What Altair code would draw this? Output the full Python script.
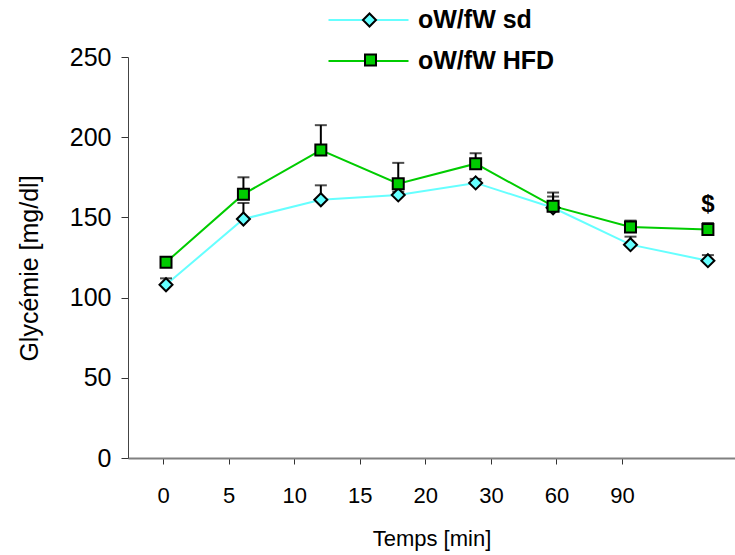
import json

import altair as alt
import pandas as pd

# Sampling times (min) and the two groups
times = ["0", "5", "10", "15", "20", "30", "60", "90"]
series_names = ["oW/fW sd", "oW/fW HFD"]
group_keys = ["sd", "HFD"]

# Mean glycaemia (mg/dl) and SEM per time point
sd_mean = [108, 149, 161, 164, 171.5, 156, 133, 123]
sd_err = [4, 10, 9, 2, 2.5, 7, 5, 3.5]
hfd_mean = [122, 164.5, 192, 171, 183.5, 157, 144, 142.5]
hfd_err = [1, 10.5, 15.5, 13, 6.5, 8.5, 4, 4]

# Significance marks above the HFD group
sig_marks = ["", "", "", "", "", "", "", "$"]

colors = ["#66FFFF", "#00CC00"]
shapes = ["diamond", "square"]
marker_sizes = [169, 121]
MARKER_EDGE = 2
FONT = "Liberation Sans"

rows = []
for k, (means, errs) in enumerate([(sd_mean, sd_err), (hfd_mean, hfd_err)]):
    for i, t in enumerate(times):
        rows.append({"series": series_names[k], "grp": group_keys[k],
                     "idx": i, "t": t, "mean": means[i],
                     "top": means[i] + errs[i]})
df = pd.DataFrame(rows)

sig_rows = [{"idx": i, "top": hfd_mean[i] + hfd_err[i], "mark": m}
            for i, m in enumerate(sig_marks) if m]
df_sig = pd.DataFrame(sig_rows)

x_data = alt.Scale(domain=[-0.491, 7.35], nice=False, zero=False)
y_scale = alt.Scale(domain=[0, 250], nice=False)

y_axis = alt.Axis(
    values=[0, 50, 100, 150, 200, 250], grid=False,
    labelFont=FONT, labelFontSize=25, labelColor="black", labelPadding=10,
    tickSize=7, tickColor="#333333", tickWidth=1,
    domainColor="#444444", domainWidth=1,
    title="Glycémie [mg/dl]", titleFont=FONT, titleFontSize=25,
    titleFontWeight="normal", titleColor="black", titlePadding=27,
    titleY=211,
)


def y_enc(field):
    return alt.Y(field, scale=y_scale, axis=y_axis)


base = alt.Chart(df).encode(
    x=alt.X("idx:Q", scale=x_data, axis=None),
    y=y_enc("mean:Q"),
)

line_legend = alt.Legend(
    title=None, orient="none", legendX=228, legendY=-49.5, padding=0,
    symbolType="M-4,0L4,0", symbolSize=400, symbolStrokeWidth=2,
    labelFont=FONT, labelFontSize=25, labelFontWeight="bold",
    labelColor="black", labelOffset=37, rowPadding=15,
)

lines = base.mark_line(strokeWidth=2).encode(
    stroke=alt.Stroke("series:N", sort=series_names,
                      scale=alt.Scale(domain=series_names, range=colors),
                      legend=line_legend),
)

err_bars = base.mark_rule(color="black", strokeWidth=2).encode(y2="top:Q")
err_caps = base.mark_tick(color="black", thickness=2, size=12,
                          orient="horizontal").encode(y=y_enc("top:Q"))


def marker_layer(k):
    # one layer per group: own marker size and own legend symbol,
    # which sits over the middle of that group's legend line
    half = (marker_sizes[k] ** 0.5 + MARKER_EDGE) / 2
    leg = alt.Legend(
        title=None, orient="none", values=[group_keys[k]],
        legendX=367 - 128 - half, legendY=-47 + 40 * k, padding=0,
        symbolSize=marker_sizes[k], symbolStrokeWidth=MARKER_EDGE,
        labelFontSize=20, labelExpr="''",
    )
    return base.transform_filter(
        alt.datum.grp == group_keys[k]
    ).mark_point(filled=True, opacity=1, strokeWidth=MARKER_EDGE,
                 size=marker_sizes[k]).encode(
        stroke=alt.Stroke("grp:N", sort=group_keys,
                          scale=alt.Scale(domain=group_keys,
                                          range=["black", "black"]),
                          legend=leg),
        fill=alt.Fill("grp:N", sort=group_keys,
                      scale=alt.Scale(domain=group_keys, range=colors),
                      legend=leg),
        shape=alt.Shape("grp:N", sort=group_keys,
                        scale=alt.Scale(domain=group_keys, range=shapes),
                        legend=leg),
    )


sig = alt.Chart(df_sig).mark_text(
    font=FONT, fontSize=24, fontWeight="bold", color="black", dy=-18,
).encode(
    x=alt.X("idx:Q", scale=x_data, axis=None),
    y=y_enc("top:Q"),
    text="mark:N",
)

data_layers = alt.layer(
    lines, err_bars, err_caps, marker_layer(0), marker_layer(1), sig
).resolve_scale(stroke="independent", fill="independent",
                shape="independent")

# Category axis for the time labels
label_list = json.dumps(times)
tick_values = [-0.549] + list(range(len(times)))
axis_layer = alt.Chart(df).mark_point(opacity=0).encode(
    x=alt.X("idx:Q",
            scale=alt.Scale(domain=[-0.534, 8.723], nice=False, zero=False),
            axis=alt.Axis(
                orient="bottom", values=tick_values,
                labelExpr=f"datum.value < 0 ? '' : {label_list}[round(datum.value)]",
                labelFont=FONT, labelFontSize=22, labelColor="black",
                labelPadding=21, labelFlush=False, labelOverlap=False,
                tickSize=6, tickColor="#333333", tickWidth=1,
                domainColor="#808080", domainWidth=2, grid=False,
                title="Temps [min]", titleFont=FONT, titleFontSize=22,
                titleFontWeight="normal", titleColor="black", titlePadding=22,
            )),
    y=y_enc("mean:Q"),
)

chart = alt.layer(data_layers, axis_layer).resolve_scale(
    x="independent"
).properties(
    width=607, height=401, background="white",
    autosize=alt.AutoSizeParams(type="none"),
    padding={"left": 128, "top": 57, "right": 0, "bottom": 97},
).configure_view(stroke=None)

chart.save("out.html", embed_options={"renderer": "svg", "actions": False})
